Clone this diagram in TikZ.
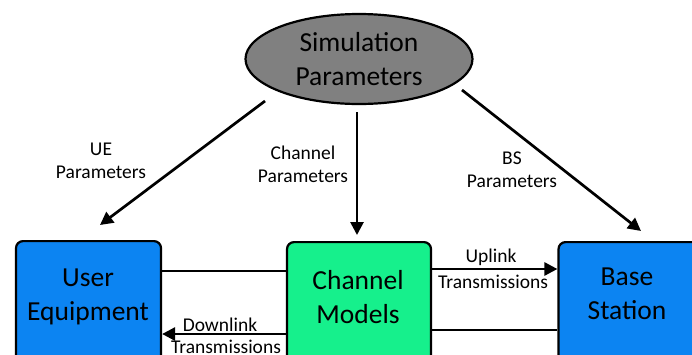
\documentclass[tikz,border=0pt]{standalone}
\usepackage{fontspec}
\setmainfont{Carlito}
\usetikzlibrary{shapes.geometric,arrows.meta}
\definecolor{boxblue}{RGB}{12,132,242}
\definecolor{boxgreen}{RGB}{22,240,140}
\definecolor{ellgray}{RGB}{128,128,128}
\tikzset{
  box/.style={draw=black, line width=2.2pt, rounded corners=7pt, inner sep=0pt, anchor=north},
  bigtext/.style={font=\fontsize{27.5}{33.5}\selectfont, align=center, inner sep=0pt, text=black},
  small/.style={font=\fontsize{19.5}{23}\selectfont, align=center, inner sep=0pt, text=black},
  arr/.style={line width=2.7pt, -{Triangle[length=13pt,width=13pt]}},
  plain/.style={line width=2.7pt},
}
\begin{document}
\begin{tikzpicture}[x=1pt,y=-1pt]
\useasboundingbox (0,0) rectangle (692,354);
\clip (0,0) rectangle (692,354);
% ellipse
\node[ellipse, draw=black, line width=2.2pt, fill=ellgray, minimum width=227pt, minimum height=90pt, inner sep=0pt] (sim) at (359,59) {};
\node[bigtext] (simt) at (359,59) {Simulation\\Parameters};
% boxes
\node[box, fill=boxblue, minimum width=145pt, minimum height=160pt] (ue) at (88.5,240) {};
\node[box, fill=boxgreen, minimum width=144pt, minimum height=160pt] (ch) at (359,241) {};
\node[box, fill=boxblue, minimum width=145pt, minimum height=160pt] (bs) at (631,241) {};
\node[bigtext] (uet) at (88,297) {User\\Equipment};
\node[bigtext] (cht) at (358,297) {Channel\\Models};
\node[bigtext] (bst) at (627,294) {Base\\Station};
% top arrows
\coordinate (s1) at (265,101);
\coordinate (e1) at (100,225);
\coordinate (s2) at (357,112);
\coordinate (e2) at (357,235);
\coordinate (s3) at (462,90);
\coordinate (e3) at (641,231);
\draw[arr] (s1) -- (e1);
\draw[arr] (s2) -- (e2);
\draw[arr] (s3) -- (e3);
\node[small] (l1) at (101,161) {UE\\Parameters};
\node[small] (l2) at (303,164) {Channel\\Parameters};
\node[small] (l3) at (512,170) {BS\\Parameters};
% horizontal connectors
\draw[plain] (ue.north east |- 0,271) -- (ch.north west |- 0,271);
\draw[arr] (ch.north west |- 0,334) -- (ue.north east |- 0,334);
\draw[arr] (ch.north east |- 0,269) -- (bs.north west |- 0,269);
\draw[plain] (ch.north east |- 0,330) -- (bs.north west |- 0,330);
\node[small] (dl1) at (220,325) {Downlink};
\node[small] (dl2) at (226,347) {Transmissions};
\node[small] (ul1) at (491,257) {Uplink};
\node[small] (ul2) at (493,282) {Transmissions};
\end{tikzpicture}
\end{document}
